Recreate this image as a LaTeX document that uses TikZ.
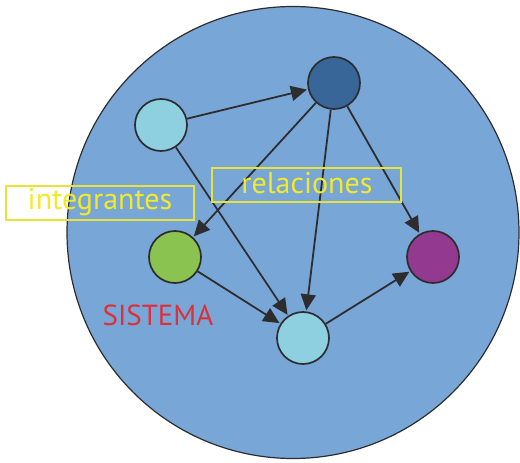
\documentclass[tikz,border=0pt]{standalone}
\usepackage{fontspec}
\setmainfont{PT Sans}
\usetikzlibrary{arrows.meta}
\definecolor{bigfill}{RGB}{120,166,214}
\definecolor{darkblue}{RGB}{56,102,152}
\definecolor{lightblue}{RGB}{142,208,224}
\definecolor{leaf}{RGB}{139,195,80}
\definecolor{plum}{RGB}{147,57,143}
\definecolor{boxyellow}{RGB}{232,226,60}
\definecolor{txtyellow}{RGB}{242,234,40}
\definecolor{sysred}{RGB}{222,48,58}
\definecolor{edge}{RGB}{45,45,48}
\tikzset{
  dot/.style={circle, draw=edge, line width=1.7pt, minimum size=52pt, inner sep=0pt},
  link/.style={draw=edge, line width=1.8pt, -{Triangle[length=16pt,width=15pt]}, shorten >=1pt},
  lbox/.style={draw=boxyellow, line width=1.4pt},
  lbl/.style={font=\fontsize{30}{30}\selectfont, text=txtyellow},
}
\begin{document}
\begin{tikzpicture}[x=1pt,y=-1pt]
\useasboundingbox (0,0) rectangle (520,463);
\node[circle, draw=edge, line width=1.2pt, fill=bigfill, minimum size=452pt, inner sep=0pt] (sys) at (293,232.5) {};
\node[dot, fill=lightblue] (a) at (161,125) {};
\node[dot, fill=darkblue] (b) at (334,83) {};
\node[dot, fill=leaf] (c) at (175,257) {};
\node[dot, fill=plum] (d) at (433,257) {};
\node[dot, fill=lightblue] (e) at (303,338) {};
\draw[link] (a) -- (b);
\draw[link] (a) -- (e);
\draw[link] (b) -- (c);
\draw[link] (b) -- (e);
\draw[link] (b) -- (d);
\draw[link] (c) -- (e);
\draw[link] (e) -- (d);
\node[lbox, minimum width=188pt, minimum height=34pt, inner sep=0pt] (ib) at (100,203) {};
\node[lbox, minimum width=189pt, minimum height=34pt, inner sep=0pt] (rb) at (306.5,185) {};
\node[lbl] (it) at (100,202) {integrantes};
\node[lbl] (rt) at (307,183) {relaciones};
\node[font=\fontsize{29}{29}\selectfont, text=sysred] (st) at (158,315) {SISTEMA};
\end{tikzpicture}
\end{document}
